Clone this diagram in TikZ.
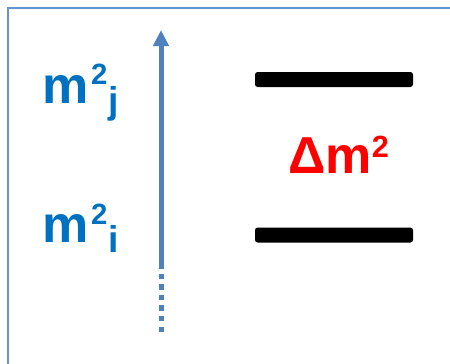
\documentclass[tikz,border=0pt]{standalone}
\usepackage{fontspec}
\setmainfont{Liberation Sans}
\usetikzlibrary{arrows.meta}
\definecolor{axisblue}{RGB}{79,129,189}
\definecolor{frameblue}{RGB}{99,146,214}
\definecolor{massblue}{RGB}{0,112,192}
\newcommand{\masslabel}[1]{m\kern2pt\raisebox{13.5pt}{\fontsize{22}{22}\selectfont 2}\kern1pt\raisebox{-8pt}{\fontsize{28}{28}\selectfont #1}}

\begin{document}
\begin{tikzpicture}[x=0.75pt, y=-0.75pt,
    level/.style={fill=black, rounded corners=2pt, minimum width=118.5pt,
      minimum height=11.25pt, inner sep=0pt},
    mass/.style={anchor=base west, inner sep=0pt, text=massblue,
      font=\fontsize{39}{39}\selectfont\bfseries},
    axis/.style={axisblue, line width=3.75pt},
  ]
  \useasboundingbox (0,0) rectangle (450,364);
  \draw[frameblue, line width=1.5pt] (8.3,364) -- (8.3,8.3) -- (450,8.3);

  \node[level] (levj) at (334,79.5) {};
  \node[level] (levi) at (334,235)  {};

  \node[mass] (massj) at (42,103) {\masslabel{j}};
  \node[mass] (massi) at (42,242) {\masslabel{i}};
  \node[mass, text=red] (dm) at (288,173)
    {Δm\raisebox{12pt}{\fontsize{23}{23}\selectfont 2}};

  \coordinate (axbot) at (161,332);
  \coordinate (axmid) at (161,268);
  \coordinate (axtop) at (161,30);
  \draw[axis, dash pattern=on 4.1pt off 3.85pt] (axbot) -- (axmid);
  \draw[axis, -{Triangle[length=12pt, width=11.25pt]}] (axmid) -- (axtop);
\end{tikzpicture}
\end{document}
